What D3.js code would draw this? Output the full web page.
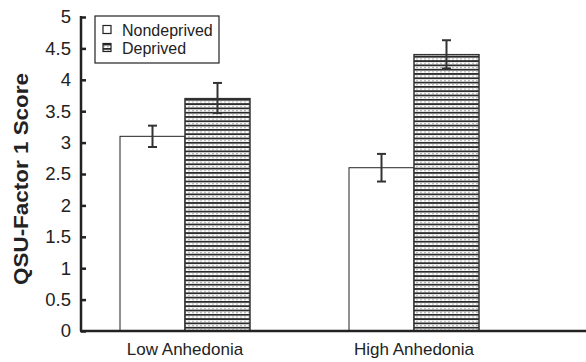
<!DOCTYPE html>
<html>
<head>
<meta charset="utf-8">
<script src="https://cdn.jsdelivr.net/npm/d3@7.9.0/dist/d3.min.js"></script>
<style>
  body { margin: 0; background: #fff; }
  text { font-family: "Liberation Sans", Arial, sans-serif; fill: #222; }
</style>
</head>
<body>
<svg width="586" height="362"></svg>
<script>
// data
const categories = ['Low Anhedonia', 'High Anhedonia'];
const groups = ['Nondeprived', 'Deprived'];
const means = [[3.1, 3.7], [2.6, 4.4]];
const errLow = [[2.93, 3.47], [2.38, 4.18]];
const errHigh = [[3.27, 3.95], [2.82, 4.63]];
const yTicks = [0, 0.5, 1, 1.5, 2, 2.5, 3, 3.5, 4, 4.5, 5];

const svg = d3.select('svg');
const axisX = 81, plotTop = 17, plotBottom = 331, plotRight = 586;
const barW = 65;

// hatch pattern for deprived bars
const defs = svg.append('defs');
const pat = defs.append('pattern')
  .attr('id', 'hatch')
  .attr('patternUnits', 'userSpaceOnUse')
  .attr('width', 4).attr('height', 4.3);
pat.append('rect').attr('width', 4).attr('height', 4.3).attr('fill', '#fff');
pat.append('rect').attr('y', 0).attr('width', 4).attr('height', 1.8).attr('fill', '#2a2a2a');
pat.append('rect').attr('y', 2.7).attr('width', 2).attr('height', 0.9).attr('fill', '#aaa');

const y = d3.scaleLinear().domain([0, 5]).range([plotBottom, plotTop]);
const x = d3.scalePoint().domain(categories).range([185, 414]);
const xs = d3.scaleBand().domain(groups).range([-barW, barW]);

// bars
const rows = categories.flatMap((c, i) => groups.map((g, j) => ({
  c, g, v: means[i][j], lo: errLow[i][j], hi: errHigh[i][j]
})));

svg.selectAll('rect.bar').data(rows).enter().append('rect')
  .attr('class', 'bar')
  .attr('x', d => x(d.c) + xs(d.g))
  .attr('width', xs.bandwidth())
  .attr('y', d => y(d.v))
  .attr('height', d => y(0) - y(d.v))
  .attr('fill', d => d.g === 'Deprived' ? 'url(#hatch)' : '#fff')
  .attr('stroke', d => d.g === 'Deprived' ? '#333' : '#222')
  .attr('stroke-width', d => d.g === 'Deprived' ? 1.5 : 1);

// error bars
const eb = svg.selectAll('g.err').data(rows).enter().append('g')
  .attr('class', 'err')
  .attr('transform', d => `translate(${x(d.c) + xs(d.g) + xs.bandwidth() / 2},0)`)
  .attr('stroke', '#333');
eb.append('line').attr('y1', d => y(d.lo)).attr('y2', d => y(d.hi)).attr('stroke-width', 2);
eb.append('line').attr('x1', -4.5).attr('x2', 4.5).attr('y1', d => y(d.hi)).attr('y2', d => y(d.hi)).attr('stroke-width', 2);
eb.append('line').attr('x1', -4.5).attr('x2', 4.5).attr('y1', d => y(d.lo)).attr('y2', d => y(d.lo)).attr('stroke-width', 2);

// y axis
const yAxis = svg.append('g')
  .attr('transform', `translate(${axisX},0)`)
  .call(d3.axisLeft(y).tickValues(yTicks).tickFormat(d3.format('')).tickSize(-5).tickPadding(10));
yAxis.select('.domain').attr('stroke', '#222').attr('stroke-width', 2.5)
  .attr('d', `M0,${plotTop - 1}V${plotBottom}`);
yAxis.selectAll('.tick line').attr('stroke', '#222').attr('stroke-width', 2.5);
yAxis.selectAll('.tick text').style('font-size', '18.5px').attr('fill', '#222');

// x axis line
svg.append('line')
  .attr('x1', axisX - 1).attr('x2', plotRight)
  .attr('y1', plotBottom).attr('y2', plotBottom)
  .attr('stroke', '#222').attr('stroke-width', 2.5);

// category labels
svg.selectAll('text.cat').data(categories).enter().append('text')
  .attr('class', 'cat')
  .attr('x', d => x(d)).attr('y', 355)
  .attr('text-anchor', 'middle')
  .style('font-size', '17px')
  .text(d => d);

// y label
svg.append('text')
  .attr('transform', 'translate(28,179) rotate(-90)')
  .attr('text-anchor', 'middle')
  .attr('textLength', 212).attr('lengthAdjust', 'spacingAndGlyphs')
  .style('font-size', '20px').style('font-weight', 'bold')
  .text('QSU-Factor 1 Score');

// legend
const lg = svg.append('g').attr('transform', 'translate(95,16)');
lg.append('rect').attr('width', 124).attr('height', 47)
  .attr('fill', '#fff').attr('stroke', '#222').attr('stroke-width', 1.2);
const items = lg.selectAll('g.item').data(groups).enter().append('g')
  .attr('transform', (d, i) => `translate(0,${14 + i * 18})`);
items.append('rect')
  .attr('x', 8).attr('y', -4.5).attr('width', 8).attr('height', 8)
  .attr('fill', d => d === 'Deprived' ? 'url(#hatch)' : '#fff')
  .attr('stroke', '#222').attr('stroke-width', 1.2);
items.append('text')
  .attr('x', 27).attr('y', 6)
  .style('font-size', '16px')
  .text(d => d);
</script>
</body>
</html>
